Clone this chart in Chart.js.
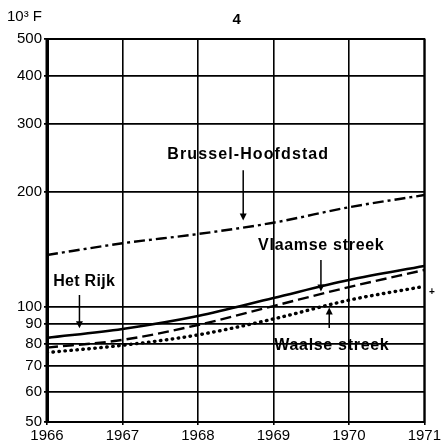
<!DOCTYPE html>
<html>
<head>
<meta charset="utf-8">
<style>
  html, body { margin: 0; padding: 0; background: #fff; }
  canvas { display: block; }
</style>
<script src="https://cdn.jsdelivr.net/npm/chart.js@4/dist/chart.umd.min.js"></script>
</head>
<body>
<canvas id="chart" width="443" height="442"></canvas>
<script>
// data (10^3 F, log scale)
const years = [1966, 1967, 1968, 1969, 1970, 1971];
const hetRijk = [82.9, 87.5, 94.6, 105.4, 117.4, 127.7];
const vlaamse = [78.2, 81.9, 89.6, 100.4, 112.5, 124.7];
const waalse = [75.9, 79.3, 84.4, 92.9, 104, 113];
const brussel = [136.5, 146.4, 154.8, 165.7, 181.8, 195.7];
const yTicks = [50, 60, 70, 80, 90, 100, 200, 300, 400, 500];

const FONT = "'Liberation Sans', Arial, Helvetica, sans-serif";

// labels with arrows, anchored in data units
const notes = [
    { text: 'Brussel-Hoofdstad', x: 1968.66, y: 249, ax: 1968.60, from: 227, to: 168, sp: 1.1 },
    { text: 'Vlaamse streek', x: 1969.63, y: 144, ax: 1969.63, from: 132.5, to: 109.5, sp: 0.7 },
    { text: 'Het Rijk', x: 1966.49, y: 116, ax: 1966.43, from: 107.3, to: 87.8, sp: 0.3 },
    { text: 'Waalse streek', x: 1969.77, y: 79, ax: 1969.74, from: 88, to: 99.5, sp: 0.7 }
];

function pts(arr) {
    return years.map((yr, i) => ({ x: yr, y: arr[i] }));
}

//frame, titles and annotations
const decor = {
    id: 'decor',
    afterDatasetsDraw(chart) {
        const ctx = chart.ctx;
        const a = chart.chartArea;
        const xs = chart.scales.x, ys = chart.scales.y;
        ctx.save();
        ctx.strokeStyle = '#000';
        ctx.lineWidth = 2;
        ctx.strokeRect(a.left, a.top, a.right - a.left, a.bottom - a.top);
        ctx.lineWidth = 3;
        ctx.beginPath();
        ctx.moveTo(a.left, a.top - 1);
        ctx.lineTo(a.left, a.bottom + 1);
        ctx.stroke();

        ctx.fillStyle = '#000';
        ctx.textBaseline = 'middle';
        ctx.textAlign = 'center';
        ctx.font = 'bold 15px ' + FONT;
        ctx.fillText('4', (a.left + a.right) / 2 + 1, 20);
        ctx.textAlign = 'left';
        ctx.font = '15px ' + FONT;
        ctx.fillText('10³ F', 7, 17);

        ctx.textAlign = 'center';
        ctx.font = 'bold 16px ' + FONT;
        notes.forEach(n => {
            ctx.letterSpacing = n.sp + 'px';
            ctx.fillText(n.text, xs.getPixelForValue(n.x) + n.sp / 2, ys.getPixelForValue(n.y));
            const px = xs.getPixelForValue(n.ax);
            const y0 = ys.getPixelForValue(n.from);
            const y1 = ys.getPixelForValue(n.to);
            const dir = y1 > y0 ? 1 : -1;
            ctx.lineWidth = 1.5;
            ctx.beginPath();
            ctx.moveTo(px, y0);
            ctx.lineTo(px, y1 - dir * 4);
            ctx.stroke();
            ctx.beginPath();
            ctx.moveTo(px, y1);
            ctx.lineTo(px - 3.5, y1 - dir * 7);
            ctx.lineTo(px + 3.5, y1 - dir * 7);
            ctx.closePath();
            ctx.fill();
        });
        ctx.letterSpacing = '0px';
        // stray mark on the right margin
        ctx.font = 'bold 10px ' + FONT;
        ctx.fillText('+', xs.getPixelForValue(1971.1), ys.getPixelForValue(109.3));
        ctx.restore();
    }
};

const ctx = document.getElementById('chart').getContext('2d');
new Chart(ctx, {
    type: 'line',
    data: {
        datasets: [
            {
                label: 'Brussel-Hoofdstad',
                data: pts(brussel),
                borderColor: '#000',
                borderWidth: 2.4,
                borderDash: [11, 4, 3, 4]
            },
            {
                label: 'Het Rijk',
                data: pts(hetRijk),
                borderColor: '#000',
                borderWidth: 2.6
            },
            {
                label: 'Vlaamse streek',
                data: pts(vlaamse),
                borderColor: '#000',
                borderWidth: 2.4,
                borderDash: [11, 5]
            },
            {
                label: 'Waalse streek',
                data: pts(waalse),
                borderColor: '#000',
                borderWidth: 3.4,
                borderCapStyle: 'round',
                borderDash: [0.5, 5.5]
            }
        ]
    },
    options: {
        responsive: false,
        animation: false,
        layout: { padding: { top: 39, right: 14, left: 0, bottom: 0 } },
        elements: {
            point: { radius: 0 },
            line: { cubicInterpolationMode: 'monotone', fill: false }
        },
        plugins: {
            legend: { display: false },
            tooltip: { enabled: false }
        },
        scales: {
            x: {
                type: 'linear',
                min: 1966,
                max: 1971,
                afterFit: s => { s.height = 20; },
                ticks: {
                    stepSize: 1,
                    color: '#000',
                    padding: 2,
                    font: { size: 15, family: FONT },
                    callback: v => String(v)
                },
                grid: { color: '#000', lineWidth: 1.6, tickLength: 3 },
                border: { color: '#000', width: 2 }
            },
            y: {
                type: 'logarithmic',
                min: 50,
                max: 500,
                afterFit: s => { s.width = 47; },
                afterBuildTicks: s => { s.ticks = yTicks.map(v => ({ value: v })); },
                ticks: {
                    color: '#000',
                    padding: 2,
                    font: { size: 15, family: FONT },
                    callback: v => String(v)
                },
                grid: { color: '#000', lineWidth: 1.7, tickLength: 3 },
                border: { color: '#000', width: 3 }
            }
        }
    },
    plugins: [decor]
});
</script>
</body>
</html>
